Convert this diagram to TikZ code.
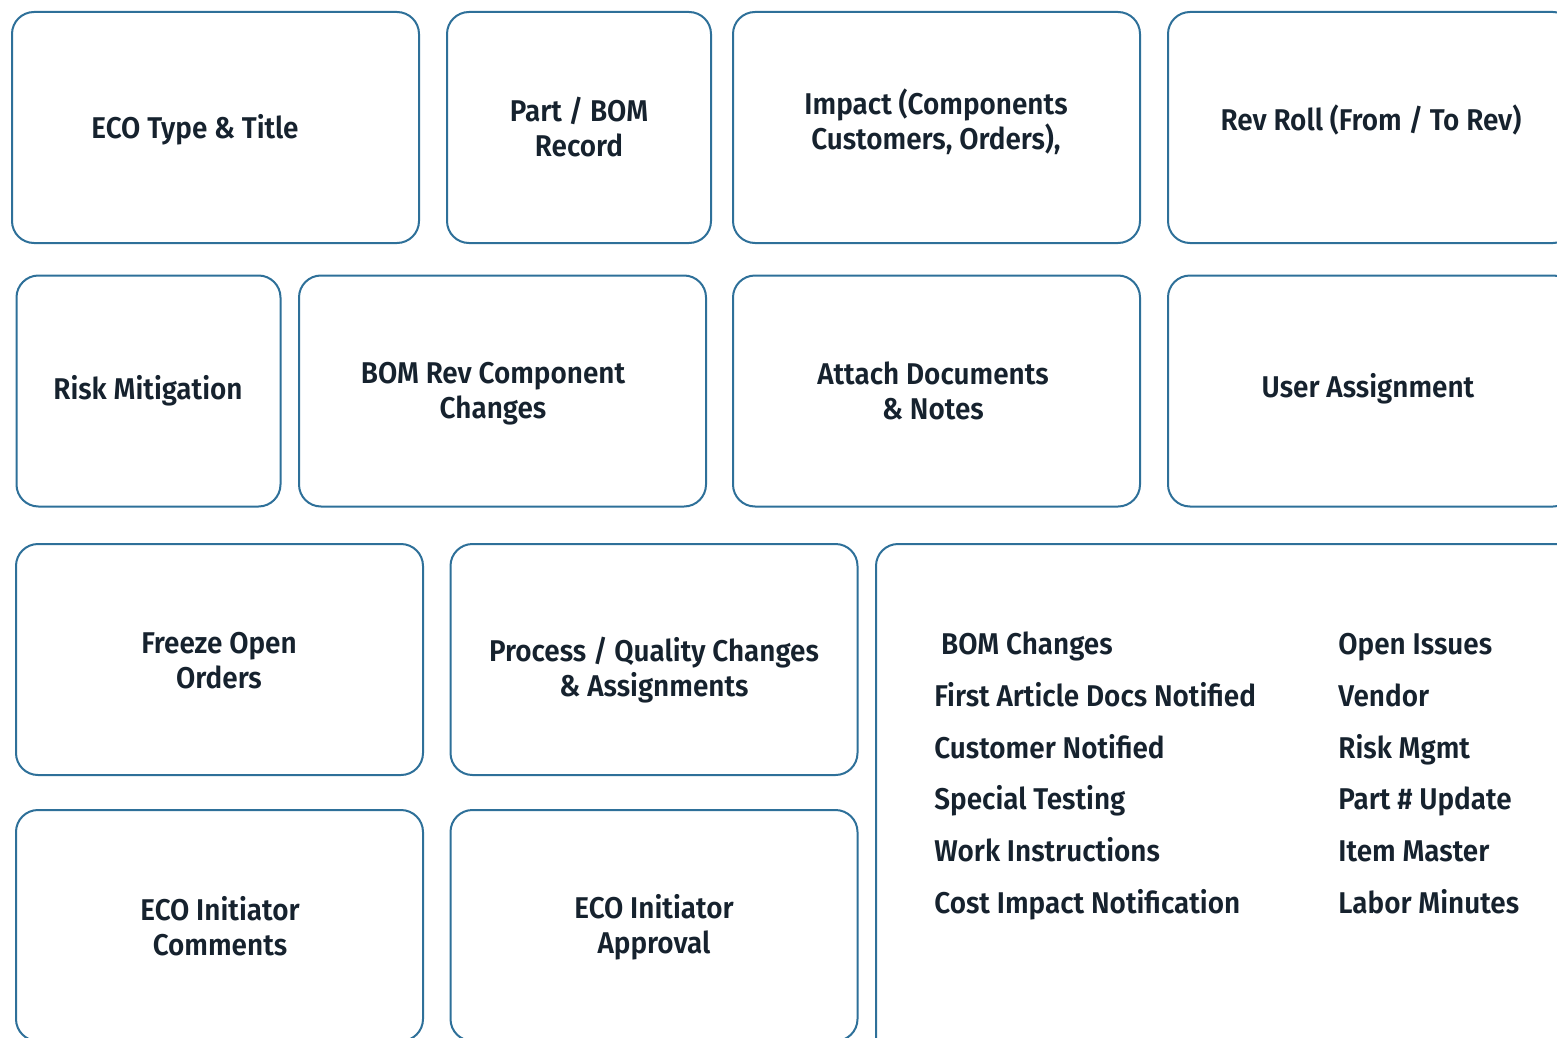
\documentclass[tikz,border=0pt]{standalone}
\usepackage{fontspec}
\setmainfont{Fira Sans}[UprightFont=* SemiBold, FakeStretch=0.93]
\usetikzlibrary{positioning}
\definecolor{cardline}{RGB}{46,112,153}
\definecolor{cardtext}{RGB}{22,34,46}

\begin{document}
\begin{tikzpicture}[x=0.5pt,y=-0.5pt,
  card/.style={rectangle,rounded corners=11pt,draw=cardline,line width=1pt,inner sep=0pt,
    minimum width=203.5pt,minimum height=115.5pt},
  narrow/.style={card,minimum width=132pt},
  label text/.style={text=cardtext,align=center,font=\fontsize{15pt}{17.5pt}\selectfont},
  item/.style={label text,anchor=base west,inner sep=0pt}]

  \clip (0,0) rectangle (1557,1038);
  \useasboundingbox (0,0) rectangle (1557,1038);

  % row 1
  \node[card] (type) at (215.5,127.5) {};
  \node[narrow] (part) at (579,127.5) {};
  \node[card] (impact) at (936.5,127.5) {};
  \node[card] (revroll) at (1371.5,127.5) {};
  \node[label text] at (195,130) {ECO Type \& Title};
  \node[label text] at (579,127) {Part / BOM\\Record};
  \node[label text] at (936,122) {Impact (Components\\Customers, Orders),};
  \node[label text] at (1371,120.5) {Rev Roll (From / To Rev)};

  % row 2
  \node[narrow] (risk) at (148.5,391) {};
  \node[card] (bomrev) at (502.5,391) {};
  \node[card] (attach) at (936.5,391) {};
  \node[card] (users) at (1371.5,391) {};
  \node[label text] at (148,390.5) {Risk Mitigation};
  \node[label text] at (493,394) {BOM Rev Component\\Changes};
  \node[label text] at (933,391) {Attach Documents\\\& Notes};
  \node[label text] at (1368,389) {User Assignment};

  % rows 3 and 4
  \node[card] (freeze) at (219.5,659.5) {};
  \node[card] (process) at (654,659.5) {};
  \node[card] (comments) at (219.5,925.5) {};
  \node[card] (approval) at (654,925.5) {};
  \node[card,minimum width=356pt,minimum height=260pt] (checklist) at (1232,804) {};
  \node[label text] at (219,660.5) {Freeze Open\\Orders};
  \node[label text] at (654,670) {Process / Quality Changes\\\& Assignments};
  \node[label text] at (220,926) {ECO Initiator\\Comments};
  \node[label text] at (654,927.5) {ECO Initiator\\Approval};

  % checklist entries
  \foreach \i/\left/\right in {0/{\ BOM Changes}/Open Issues,
      1/First Article Docs Notified/Vendor,
      2/Customer Notified/Risk Mgmt,
      3/Special Testing/Part \# Update,
      4/Work Instructions/Item Master,
      5/Cost Impact Notification/Labor Minutes}{
    \node[item] (left\i) at (934,654.5+51.8*\i) {\left};
    \node[item] (right\i) at (1338,654.5+51.8*\i) {\right};
  }
\end{tikzpicture}
\end{document}
